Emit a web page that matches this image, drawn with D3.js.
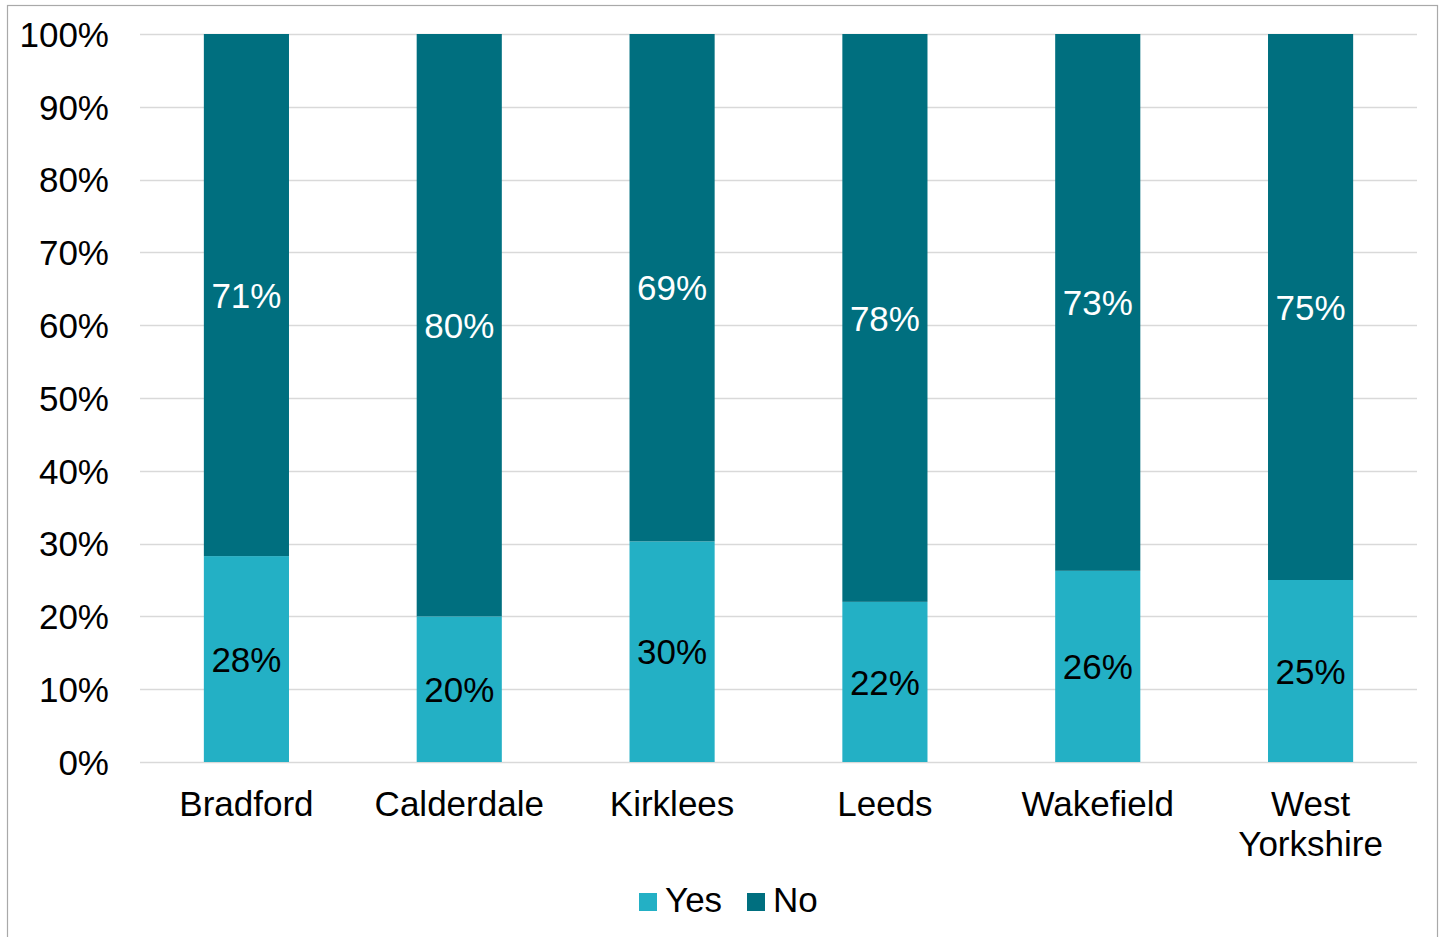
<!DOCTYPE html>
<html>
<head>
<meta charset="utf-8">
<script src="https://cdn.jsdelivr.net/npm/d3@7"></script>
<style>
  html, body { margin: 0; padding: 0; background: #fff; }
  svg { display: block; }
  text { font-family: "Liberation Sans", Arial, sans-serif; }
</style>
</head>
<body>
<svg id="chart" width="1441" height="937"></svg>
<script>
const categories = ["Bradford", "Calderdale", "Kirklees", "Leeds", "Wakefield", "West Yorkshire"];
const yesValues = [28, 20, 30, 22, 26, 25];
const noValues = [71, 80, 69, 78, 73, 75];
const seriesNames = ["Yes", "No"];
const seriesColors = ["#23b0c5", "#006f7f"];
const labelColors = ["#000000", "#ffffff"];
const yTicks = [0, 0.1, 0.2, 0.3, 0.4, 0.5, 0.6, 0.7, 0.8, 0.9, 1.0];

const FS = 35;
const svg = d3.select("#chart");
const plot = { left: 140, right: 1417, top: 34, bottom: 762 };

// outer frame
svg.append("rect")
  .attr("x", 7.5).attr("y", 5.5)
  .attr("width", 1430).attr("height", 960)
  .attr("fill", "none").attr("stroke", "#a9a9a9").attr("stroke-width", 1.2);

const rows = categories.map((c, i) => ({ cat: c, Yes: yesValues[i], No: noValues[i] }));
const stack = d3.stack().keys(seriesNames).offset(d3.stackOffsetExpand);
const stacked = stack(rows);

const x = d3.scaleBand().domain(categories).range([plot.left, plot.right]).paddingInner(0.6).paddingOuter(0.3);
const y = d3.scaleLinear().domain([0, 1]).range([plot.bottom, plot.top]);

// gridlines
svg.append("g").selectAll("line").data(yTicks).join("line")
  .attr("x1", plot.left).attr("x2", plot.right)
  .attr("y1", d => Math.round(y(d)) + 0.5).attr("y2", d => Math.round(y(d)) + 0.5)
  .attr("stroke", "#d9d9d9").attr("stroke-width", 1.3);

// y axis labels
const yAxis = d3.axisLeft(y).tickValues(yTicks).tickFormat(d3.format(".0%")).tickSize(0).tickPadding(0);
const yg = svg.append("g").attr("transform", `translate(109,0)`).call(yAxis);
yg.select(".domain").remove();
yg.selectAll("text").attr("font-size", FS).attr("fill", "#000")
  .attr("font-family", "'Liberation Sans', Arial, sans-serif").attr("dy", "0.35em");

// bars
const groups = svg.append("g").selectAll("g").data(stacked).join("g")
  .attr("fill", (d, i) => seriesColors[i]);
groups.selectAll("rect").data(d => d).join("rect")
  .attr("x", d => x(d.data.cat))
  .attr("width", x.bandwidth())
  .attr("y", d => y(d[1]))
  .attr("height", d => y(d[0]) - y(d[1]));

// data labels
const lg = svg.append("g");
stacked.forEach((s, si) => {
  lg.selectAll(null).data(s).join("text")
    .attr("x", d => x(d.data.cat) + x.bandwidth() / 2)
    .attr("y", d => (y(d[0]) + y(d[1])) / 2)
    .attr("dy", "0.36em")
    .attr("text-anchor", "middle")
    .attr("font-size", FS)
    .attr("fill", labelColors[si])
    .text(d => d.data[s.key] + "%");
});

// x axis labels
const xAxis = d3.axisBottom(x).tickSize(0).tickPadding(0);
const xg = svg.append("g").attr("transform", `translate(0,${plot.bottom})`).call(xAxis);
xg.select(".domain").remove();
xg.selectAll("text").remove();
xg.selectAll(".tick").each(function(d) {
  const words = d === "West Yorkshire" ? ["West", "Yorkshire"] : [d];
  const t = d3.select(this).append("text")
    .attr("text-anchor", "middle").attr("font-size", FS).attr("fill", "#000")
    .attr("font-family", "'Liberation Sans', Arial, sans-serif");
  words.forEach((w, i) => {
    t.append("tspan").attr("x", 0).attr("y", 54 + i * 40).text(w);
  });
});

// legend
const legend = svg.append("g");
const legendItems = [
  { name: seriesNames[0], color: seriesColors[0], sx: 639, tx: 665 },
  { name: seriesNames[1], color: seriesColors[1], sx: 747, tx: 773 }
];
legendItems.forEach(it => {
  legend.append("rect").attr("x", it.sx).attr("y", 893).attr("width", 18).attr("height", 18).attr("fill", it.color);
  legend.append("text").attr("x", it.tx).attr("y", 912).attr("font-size", FS).attr("fill", "#000").text(it.name);
});
</script>
</body>
</html>
